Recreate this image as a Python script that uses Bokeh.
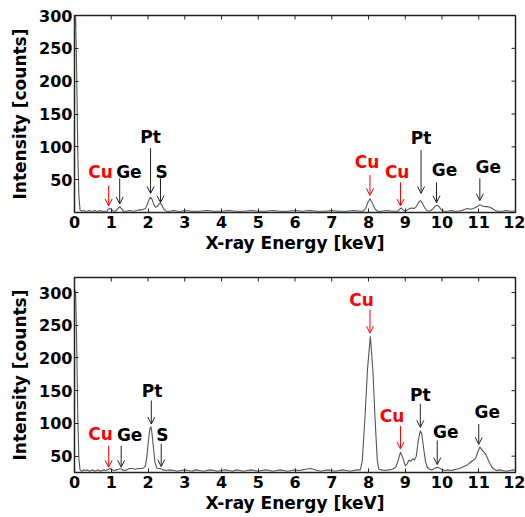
import math
from bokeh.plotting import figure
from bokeh.layouts import column
from bokeh.models import (ColumnDataSource, FixedTicker, Arrow, OpenHead, Range1d)
from bokeh.core.properties import value
from bokeh.embed import file_html
from bokeh.resources import INLINE

# ---------------- data ----------------
x_ticks = list(range(0, 13))
y_ticks = [50, 100, 150, 200, 250, 300]
x_label = "X-ray Energy [keV]"
y_label = "Intensity [counts]"

# top spectrum
top_energy = [0.00, 0.03, 0.06, 0.09, 0.12, 0.15, 0.20, 0.25, 0.30, 0.35, 0.40, 0.45, 0.50, 0.55, 0.60,
              0.65, 0.70, 0.75, 0.80, 0.88, 0.92, 0.96, 1.00, 1.05, 1.12, 1.18, 1.23, 1.28, 1.33, 1.40,
              1.50, 1.60, 1.70, 1.76, 1.82, 1.88, 1.93, 1.98, 2.03, 2.07, 2.11, 2.16, 2.20, 2.25, 2.30,
              2.34, 2.38, 2.43, 2.50, 2.60, 2.70, 2.80, 2.90, 3.00, 3.20, 3.40, 3.60, 3.80, 4.00, 4.20,
              4.40, 4.60, 4.80, 5.00, 5.20, 5.40, 5.60, 5.80, 6.00, 6.20, 6.40, 6.60, 6.80, 7.00, 7.20,
              7.40, 7.60, 7.78, 7.85, 7.92, 7.98, 8.04, 8.10, 8.17, 8.24, 8.35, 8.50, 8.65, 8.80, 8.85,
              8.89, 8.94, 9.00, 9.06, 9.12, 9.18, 9.24, 9.30, 9.36, 9.41, 9.46, 9.52, 9.58, 9.64, 9.70,
              9.76, 9.82, 9.87, 9.92, 9.98, 10.05, 10.15, 10.25, 10.35, 10.45, 10.55, 10.62, 10.70, 10.78,
              10.85, 10.92, 10.98, 11.03, 11.10, 11.17, 11.24, 11.30, 11.37, 11.45, 11.54, 11.65, 11.75,
              11.85, 11.95, 12.00]
top_counts = [280, 300, 210, 90, 25, 4, 2, 3, 2, 2, 3, 2, 2, 3, 2,
              2, 3, 2, 2, 2, 5, 6, 5, 2, 2, 6, 9, 6, 2, 2,
              3, 2, 3, 4, 4, 5, 6, 12, 20, 23, 20, 12, 8, 9, 13,
              14, 11, 5, 2, 2, 3, 2, 2, 3, 2, 2, 3, 2, 2, 3,
              2, 2, 3, 2, 2, 3, 2, 2, 3, 2, 3, 2, 2, 3, 2,
              2, 3, 2, 2, 6, 15, 21, 15, 6, 2, 2, 3, 2, 2, 5,
              7, 4, 2, 4, 6, 7, 6, 9, 15, 18, 15, 8, 3, 2, 3,
              6, 10, 11, 9, 4, 2, 2, 3, 2, 2, 3, 5, 6, 5,
              6, 8, 10, 12, 10, 9, 9, 8, 6, 3, 2, 2, 3,
              2, 2, 2]

# bottom spectrum
bot_energy = [0.00, 0.03, 0.06, 0.09, 0.12, 0.15, 0.20, 0.25, 0.30, 0.35, 0.40, 0.45, 0.50, 0.55, 0.60,
              0.65, 0.70, 0.75, 0.80, 0.85, 0.90, 0.96, 1.02, 1.08, 1.14, 1.20, 1.25, 1.30, 1.36, 1.42,
              1.50, 1.58, 1.66, 1.74, 1.82, 1.88, 1.93, 1.97, 2.01, 2.05, 2.08, 2.11, 2.15, 2.19, 2.24,
              2.29, 2.34, 2.40, 2.50, 2.60, 2.70, 2.80, 2.90, 3.00, 3.10, 3.20, 3.30, 3.40, 3.50, 3.60,
              3.70, 3.80, 3.90, 4.00, 4.10, 4.20, 4.30, 4.40, 4.50, 4.60, 4.70, 4.80, 4.90, 5.00, 5.10,
              5.20, 5.30, 5.40, 5.50, 5.60, 5.70, 5.80, 5.90, 6.00, 6.10, 6.20, 6.30, 6.40, 6.50, 6.60,
              6.70, 6.80, 6.90, 7.00, 7.10, 7.20, 7.30, 7.40, 7.50, 7.60, 7.70, 7.78, 7.83, 7.90, 7.97,
              8.05, 8.12, 8.18, 8.24, 8.28, 8.35, 8.45, 8.55, 8.65, 8.74, 8.80, 8.87, 8.93, 9.00, 9.05,
              9.10, 9.15, 9.20, 9.25, 9.30, 9.35, 9.41, 9.45, 9.50, 9.55, 9.60, 9.66, 9.72, 9.80, 9.87,
              9.93, 10.00, 10.08, 10.16, 10.24, 10.32, 10.40, 10.48, 10.55, 10.62, 10.70, 10.78, 10.86, 10.92, 10.97,
              11.03, 11.08, 11.13, 11.18, 11.22, 11.26, 11.31, 11.36, 11.42, 11.48, 11.55, 11.65, 11.75, 11.85, 11.95,
              12.00]
bot_counts = [290, 303, 220, 110, 45, 29, 27, 29, 28, 29, 27, 28, 29, 27, 28,
              29, 27, 28, 29, 28, 29, 31, 29, 28, 29, 30, 31, 29, 28, 29,
              31, 31, 30, 31, 31, 32, 35, 50, 72, 92, 95, 84, 62, 40, 32,
              31, 31, 29, 28, 29, 28, 27, 28, 29, 28, 27, 29, 28, 27, 28,
              29, 28, 27, 28, 29, 28, 27, 29, 28, 27, 28, 29, 28, 27, 28,
              29, 28, 27, 28, 29, 28, 27, 28, 29, 28, 29, 30, 31, 30, 28,
              27, 28, 29, 28, 27, 28, 29, 28, 27, 28, 29, 29, 43, 105, 181,
              233, 181, 105, 43, 30, 29, 28, 29, 30, 33, 42, 56, 48, 35, 38,
              44, 42, 46, 44, 50, 72, 89, 84, 62, 42, 33, 30, 29, 31, 33,
              32, 29, 28, 29, 28, 29, 30, 31, 33, 35, 37, 41, 44, 47, 56,
              64, 60, 57, 54, 49, 44, 38, 33, 30, 28, 29, 28, 27, 28, 29,
              28]

# peak annotations (label text, label position, arrow position)
top_lbl_text = ["Cu", "Ge", "Pt", "S", "Cu", "Cu", "Pt", "Ge", "Ge"]
top_lbl_x = [0.71, 1.48, 2.07, 2.37, 7.96, 8.78, 9.43, 10.07, 11.26]
top_lbl_y = [61, 61, 115, 61, 77, 62, 113, 64, 69]
top_arrow_x = [0.93, 1.23, 2.07, 2.34, 8.04, 8.87, 9.43, 9.85, 11.03]
top_arrow_y0 = [41, 52, 98, 52, 57, 46, 95, 46, 52]
top_arrow_y1 = [10, 13, 29, 15, 26, 10, 29, 15, 18]

bot_lbl_text = ["Cu", "Ge", "Pt", "S", "Cu", "Cu", "Pt", "Ge", "Ge"]
bot_lbl_x = [0.71, 1.50, 2.11, 2.39, 7.81, 8.64, 9.41, 10.10, 11.23]
bot_lbl_y = [84, 83, 150, 83, 288, 112, 143, 87, 117]
bot_arrow_x = [0.93, 1.27, 2.09, 2.36, 8.04, 8.87, 9.41, 9.87, 11.00]
bot_arrow_y0 = [66, 66, 135, 69, 274, 96, 130, 74, 99]
bot_arrow_y1 = [33, 33, 99, 34, 238, 61, 94, 37, 68]

RED = "#ff0000"
DARK = "#222222"
FONT = "DejaVu Sans"


def make_panel(energy, counts, lbl_text, lbl_x, lbl_y, ax, ay0, ay1, y_range, height, mb_top, mb_bottom):
    p = figure(width=525, height=height, output_backend="svg", toolbar_location=None,
               x_range=Range1d(0, 12), y_range=Range1d(*y_range),
               min_border_left=74, min_border_right=10, min_border_top=mb_top,
               min_border_bottom=mb_bottom)
    p.xgrid.visible = False
    p.ygrid.visible = False
    p.outline_line_color = DARK
    p.outline_line_width = 1.5
    p.background_fill_color = "white"
    p.border_fill_color = "white"

    p.line(energy, counts, line_color="#555555", line_width=1.1)

    colors = [RED if t == "Cu" else "black" for t in lbl_text]
    src = ColumnDataSource(dict(x=lbl_x, y=lbl_y, t=lbl_text, c=colors))
    p.text(x="x", y="y", text="t", source=src, text_color="c",
           text_font=value(FONT), text_font_style="bold", text_font_size="17px",
           text_align="center", text_baseline="middle")

    for col in (RED, DARK):
        idx = [i for i, t in enumerate(lbl_text) if (t == "Cu") == (col == RED)]
        asrc = ColumnDataSource(dict(x=[ax[i] for i in idx], y0=[ay0[i] for i in idx],
                                     y1=[ay1[i] for i in idx]))
        p.add_layout(Arrow(end=OpenHead(size=7, line_color=col, line_width=1),
                           x_start="x", y_start="y0", x_end="x", y_end="y1",
                           source=asrc, line_color=col, line_width=1))

    # main axes
    for a in (p.xaxis[0], p.yaxis[0]):
        a.axis_line_color = None
        a.major_tick_in = 4
        a.major_tick_out = 0
        a.minor_tick_in = 0
        a.minor_tick_out = 0
        a.major_tick_line_color = DARK
        a.major_label_text_font = FONT
        a.major_label_text_font_style = "bold"
        a.major_label_text_font_size = "16px"
        a.major_label_text_color = "black"
        a.axis_label_text_font = FONT
        a.axis_label_text_font_style = "bold"
        a.axis_label_text_font_size = "17px"
        a.axis_label_text_color = "black"
    p.xaxis[0].ticker = FixedTicker(ticks=x_ticks)
    p.yaxis[0].ticker = FixedTicker(ticks=y_ticks)
    p.xaxis[0].axis_label = x_label
    p.yaxis[0].axis_label = y_label
    p.xaxis[0].major_label_standoff = 3
    p.xaxis[0].axis_label_standoff = 2
    p.yaxis[0].major_label_standoff = 2
    p.yaxis[0].axis_label_standoff = 6

    # mirrored tick marks on the top and right edges
    y_hi = y_range[1]
    p.ray(x=x_ticks, y=[y_hi] * len(x_ticks), length=4, length_units="screen",
          angle=-math.pi / 2, line_color=DARK, line_width=1)
    p.ray(x=[12] * len(y_ticks), y=y_ticks, length=4, length_units="screen",
          angle=math.pi, line_color=DARK, line_width=1)
    return p


p1 = make_panel(top_energy, top_counts, top_lbl_text, top_lbl_x, top_lbl_y,
                top_arrow_x, top_arrow_y0, top_arrow_y1, (0, 300), 258, 15, 46)
p2 = make_panel(bot_energy, bot_counts, bot_lbl_text, bot_lbl_x, bot_lbl_y,
                bot_arrow_x, bot_arrow_y0, bot_arrow_y1, (25, 323), 259, 19, 45)

layout = column(p1, p2)
open("out.html", "w").write(file_html(layout, INLINE))
